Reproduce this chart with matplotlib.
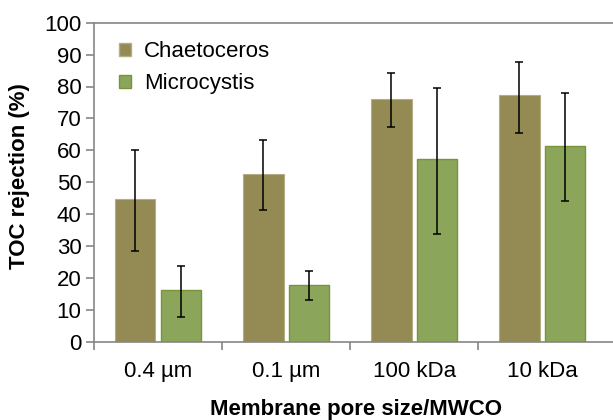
import numpy as np
import matplotlib
matplotlib.use("Agg")
import matplotlib.pyplot as plt
from matplotlib.patches import Patch

plt.rcParams['font.family'] = ['Liberation Sans', 'DejaVu Sans']

categories = ['0.4 µm', '0.1 µm', '100 kDa', '10 kDa']
chaetoceros = [44.6, 52.7, 76.0, 77.2]
chaetoceros_lo = [28.5, 41.3, 67.2, 65.4]
chaetoceros_hi = [60.1, 63.2, 84.1, 87.7]
microcystis = [16.1, 17.9, 57.2, 61.3]
microcystis_lo = [7.6, 13.0, 33.8, 44.0]
microcystis_hi = [23.6, 22.3, 79.6, 78.0]

fig = plt.figure(figsize=(6.13, 4.2), dpi=100)
# axes runs slightly past the right edge, like the cropped original
ax = fig.add_axes([94 / 613, 1 - 341.7 / 420, 525 / 613, 319 / 420])

x = np.arange(len(categories))
w = 0.316
off = 0.178
ch = np.array(chaetoceros)
mi = np.array(microcystis)
ch_err = [ch - np.array(chaetoceros_lo), np.array(chaetoceros_hi) - ch]
mi_err = [mi - np.array(microcystis_lo), np.array(microcystis_hi) - mi]

ekw = dict(ecolor='black', elinewidth=1.1, capsize=3, capthick=1.1)
ax.bar(x - off, ch, w, color='#948A54', edgecolor='#B5AD84', linewidth=0.8,
       yerr=ch_err, error_kw=ekw, label='Chaetoceros', zorder=2)
ax.bar(x + off, mi, w, color='#8BA65A', edgecolor='#77933C', linewidth=1.0,
       yerr=mi_err, error_kw=ekw, label='Microcystis', zorder=2)

ax.set_xlim(-0.5, 3.6)
ax.set_ylim(0, 100)
ax.set_yticks(np.arange(0, 101, 10))
ax.set_xticks(x)
ax.set_xticklabels(categories, fontsize=16)
ax.set_xticks(np.arange(-0.5, 3.5, 1), minor=True)
ax.tick_params(axis='x', which='major', length=0, pad=14)
ax.tick_params(axis='x', which='minor', length=6, width=1.2, color='#868686')
ax.tick_params(axis='y', length=6, width=1.2, color='#868686', labelsize=16, pad=3)

for s in ['left', 'bottom', 'top']:
    ax.spines[s].set_color('#868686')
    ax.spines[s].set_linewidth(1.2)
ax.spines['right'].set_visible(False)

fig.text(20 / 613, 1 - 176 / 420, 'TOC rejection (%)', fontsize=16,
         fontweight='bold', rotation=90, ha='center', va='center')
fig.text(356 / 613, 1 - 410 / 420, 'Membrane pore size/MWCO', fontsize=16,
         fontweight='bold', ha='center', va='center')

handles = [Patch(facecolor='#948A54', edgecolor='#B5AD84'),
           Patch(facecolor='#8BA65A', edgecolor='#77933C')]
ax.legend(handles, ['Chaetoceros', 'Microcystis'], loc='upper left',
          bbox_to_anchor=(0.01, 1.005), frameon=False, fontsize=16,
          handlelength=0.55, handleheight=0.55, handletextpad=0.55, labelspacing=0.5)

fig.savefig('out.png', dpi=100)
